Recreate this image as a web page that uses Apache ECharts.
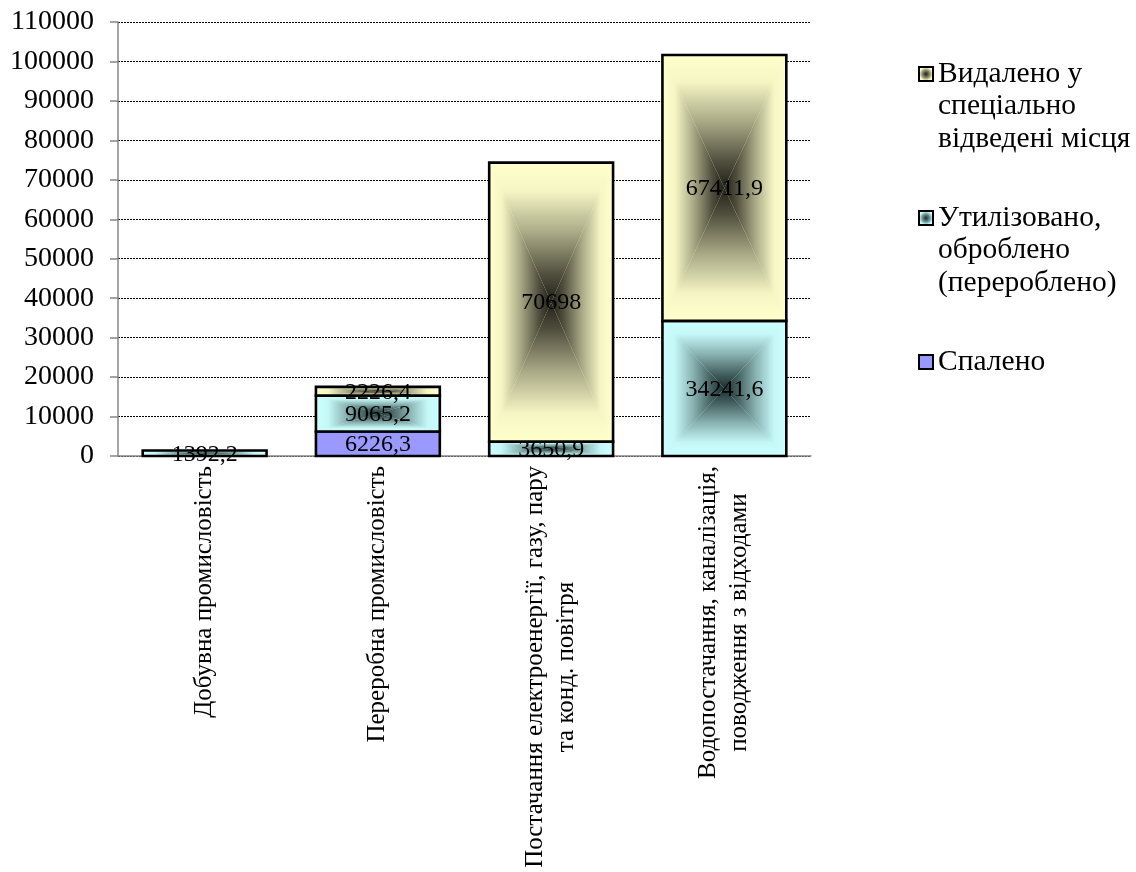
<!DOCTYPE html>
<html><head><meta charset="utf-8">
<script src="https://cdn.jsdelivr.net/npm/echarts@6/dist/echarts.min.js"></script>
<style>html,body{margin:0;padding:0;background:#fff}#c{width:1136px;height:872px}</style>
</head><body><div id="c"></div>
<script>
// ---------- data ----------
const categories = [
  'Добувна промисловість',
  'Переробна промисловість',
  'Постачання електроенергії, газу, пару\nта конд. повітря',
  'Водопостачання, каналізація,\nповодження з відходами'
];
const seriesNames = [
  'Спалено',
  'Утилізовано, оброблено (перероблено)',
  'Видалено у спеціально відведені місця'
];
const legendLabels = [
  'Спалено',
  'Утилізовано,\nоброблено\n(перероблено)',
  'Видалено у\nспеціально\nвідведені місця'
];
const burned   = [0, 6226.3, 0, 0];
const recycled = [1392.2, 9065.2, 3650.9, 34241.6];
const disposed = [0, 2226.4, 70698, 67411.9];
const yMin = 0, yMax = 110000, yInterval = 10000;

// ---------- style ----------
const FONT = '"Liberation Serif", "Times New Roman", serif';
function hex(c){c=c.replace('#','');return [0,2,4].map(i=>parseInt(c.substr(i,2),16));}
function mix(a,b,t){const A=hex(a),B=hex(b);return 'rgb('+A.map((v,i)=>Math.round(v+(B[i]-v)*t)).join(',')+')';}
function stops(edge,center){
  return [
    {offset:0,color:edge},
    {offset:0.2,color:mix(edge,center,0.04)},
    {offset:0.5,color:mix(edge,center,0.38)},
    {offset:0.8,color:mix(edge,center,0.78)},
    {offset:1,color:center}
  ];
}
const palette = [
  {edge:'#9999FF', center:null},
  {edge:'#CCFFFF', center:'#1a2e2e'},
  {edge:'#FFFFCC', center:'#201f17'}
];
const valuesList = [burned, recycled, disposed];
const bases = valuesList.map((vals,si)=>vals.map((_,i)=>{
  let s=0; for(let k=0;k<si;k++) s+=valuesList[k][i]; return s;
}));
function fmt(v){return String(v).replace('.',',');}

function makeRender(si){
  const vals = valuesList[si], base = bases[si], pal = palette[si];
  return function(params, api){
    const i = params.dataIndex;
    const v = vals[i];
    if(!v) return null;
    const pB = api.coord([i, base[i]]);
    const pT = api.coord([i, base[i]+v]);
    const bw = api.size([1,0])[0]*0.715;
    const x0 = pB[0]-bw/2, x1 = pB[0]+bw/2, yB = pB[1], yT = pT[1];
    const cx = (x0+x1)/2, cy = (yB+yT)/2;
    const children = [{type:'rect', shape:{x:x0,y:yT,width:bw,height:yB-yT}, style:{fill:pal.edge}}];
    if(pal.center){
      const st = stops(pal.edge, pal.center);
      const G = (a,b,c,d)=>new echarts.graphic.LinearGradient(a,b,c,d,st);
      children.push(
        {type:'polygon', shape:{points:[[x0,yT],[x1,yT],[cx,cy]]}, style:{fill:G(0,0,0,1)}},
        {type:'polygon', shape:{points:[[x0,yB],[x1,yB],[cx,cy]]}, style:{fill:G(0,1,0,0)}},
        {type:'polygon', shape:{points:[[x0,yT],[x0,yB],[cx,cy]]}, style:{fill:G(0,0,1,0)}},
        {type:'polygon', shape:{points:[[x1,yT],[x1,yB],[cx,cy]]}, style:{fill:G(1,0,0,0)}}
      );
    }
    children.push({type:'rect', shape:{x:x0,y:yT,width:bw,height:yB-yT}, style:{fill:'none', stroke:'#000', lineWidth:2.6}});
    children.push({type:'text', z2:100, style:{text:fmt(v), x:cx, y:cy+1, align:'center', verticalAlign:'middle', font:'24px '+FONT, fill:'#000'}});
    return {type:'group', children};
  };
}

const series = seriesNames.map((name,si)=>({
  name, type:'custom',
  renderItem: makeRender(si),
  data: valuesList[si].map((v,i)=>[i, bases[si][i]+v]),
  encode:{x:0,y:1},
  itemStyle:{
    color: palette[si].center
      ? new echarts.graphic.RadialGradient(0.5,0.5,0.7,[{offset:0,color:palette[si].center},{offset:0.35,color:mix(palette[si].edge,palette[si].center,0.5)},{offset:0.6,color:palette[si].edge},{offset:1,color:palette[si].edge}])
      : palette[si].edge,
    borderColor:'#000', borderWidth:1.8
  }
}));

const legendTops = [357, 213, 69]; // first-line centres
const LH = 32.5;
const legends = seriesNames.map((name,si)=>{
  const lines = legendLabels[si].split('\n').length;
  const pad = lines-1;
  const totalLines = lines + pad;
  return {
    data:[name], orient:'vertical', left:913,
    top: legendTops[si] - totalLines*LH/2,
    icon:'rect', itemWidth:14, itemHeight:14, itemGap:0,
    selectedMode:false,
    formatter: ()=> '\n'.repeat(pad) + legendLabels[si],
    textStyle:{fontFamily:FONT, fontSize:29.5, lineHeight:LH, color:'#000'}
  };
});

const chart = echarts.init(document.getElementById('c'), null, {renderer:'canvas'});
chart.setOption({
  animation:false,
  backgroundColor:'#fff',
  grid:{left:118, right:325, top:22, bottom:416},
  legend: legends,
  xAxis:{
    type:'category', data:categories,
    axisLine:{lineStyle:{color:'#868686', width:1.5}},
    axisTick:{length:8, lineStyle:{color:'#868686', width:1.5}},
    axisLabel:{
      rotate:90, interval:0, margin:10, color:'#000',
      fontFamily:FONT, fontSize:25, lineHeight:31,
      formatter: v => v.split('\n').map(s=>'{a|'+s+'}').join('\n'),
      rich:{a:{align:'center', fontFamily:FONT, fontSize:25, lineHeight:31, color:'#000'}}
    }
  },
  yAxis:{
    type:'value', min:yMin, max:yMax, interval:yInterval,
    axisLine:{show:true, lineStyle:{color:'#868686', width:1.5}},
    axisTick:{show:true, length:8, lineStyle:{color:'#868686', width:1.5}},
    axisLabel:{fontFamily:FONT, fontSize:28, color:'#000', margin:24, formatter:v=>String(v)},
    splitLine:{show:true, lineStyle:{color:'#000', width:1, type:[2,1]}}
  },
  series
});
</script>
</body></html>
